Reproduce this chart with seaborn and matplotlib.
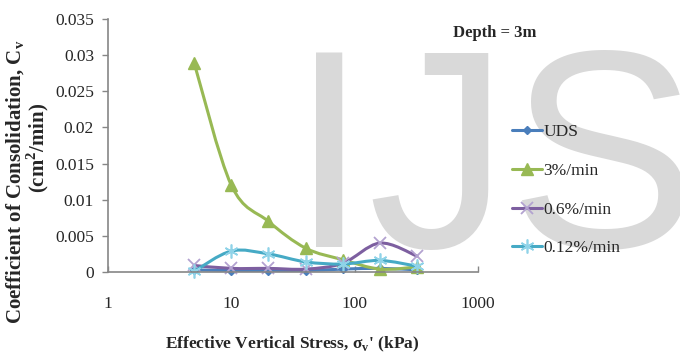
import numpy as np
import pandas as pd
import matplotlib
matplotlib.use("Agg")
import matplotlib.pyplot as plt
import seaborn as sns
from matplotlib.path import Path
from matplotlib.patches import PathPatch
from matplotlib.lines import Line2D
from matplotlib.ticker import FixedLocator, FixedFormatter, NullLocator

# ---------------- data ----------------
stress = [5, 10, 20, 40, 80, 160, 320]
cv_uds = [0.0003, 0.0002, 0.0002, 0.0002, 0.0004, 0.0005, 0.0003]
cv_3 = [0.0289, 0.0120, 0.0070, 0.0033, 0.0017, 0.0004, 0.0007]
cv_06 = [0.0009, 0.0005, 0.0005, 0.0004, 0.0012, 0.0040, 0.0022]
cv_012 = [0.0001, 0.0029, 0.0025, 0.0014, 0.0011, 0.0016, 0.0008]
series_names = ["UDS", "3%/min", "0.6%/min", "0.12%/min"]
y_ticks = [0, 0.005, 0.01, 0.015, 0.02, 0.025, 0.03, 0.035]
y_tick_labels = ["0", "0.005", "0.01", "0.015", "0.02", "0.025", "0.03", "0.035"]
x_ticks = [1, 10, 100, 1000]
x_tick_labels = ["1", "10", "100", "1000"]

# ---------------- style ----------------
sns.set_style("white")
plt.rcParams["font.family"] = ["Liberation Serif", "DejaVu Serif"]
plt.rcParams["mathtext.fontset"] = "custom"
plt.rcParams["mathtext.rm"] = "Liberation Serif"
plt.rcParams["mathtext.bf"] = "Liberation Serif:bold"

line_colors = ["#4A7EBB", "#98B954", "#7D5FA0", "#46AAC5"]
marker_colors = ["#4A7EBB", "#98B954", "#B3A2D0", "#8FD3E8"]
markers = ["D", "^", "x", (6, 2, 0)]
marker_sizes = [4, 8, 8, 10]
marker_ew = [1, 1, 1.3, 1.2]

fig = plt.figure(figsize=(6.8, 3.56), dpi=100)
W, H = 680, 356
ax = fig.add_axes([108 / W, 1 - 272 / H, (478 - 108) / W, (272 - 19) / H])
ax.patch.set_alpha(0)

# watermark
fig.text(290.5 / W, 1 - 247 / H, "IJS", fontsize=203, family="Liberation Sans",
         color="#d9d9d9", ha="left", va="baseline", zorder=-1)

ax.set_xscale("log")
ax.set_xlim(1, 1000)
ax.set_ylim(0, 0.035)


def smooth_path(xs, ys):
    u = np.log10(np.asarray(xs, dtype=float))
    P = np.column_stack([u, np.asarray(ys, dtype=float)])
    n = len(P)
    verts = [P[0]]
    codes = [Path.MOVETO]
    for i in range(n - 1):
        p0 = P[i - 1] if i > 0 else P[i]
        p1, p2 = P[i], P[i + 1]
        p3 = P[i + 2] if i + 2 < n else P[i + 1]
        c1 = p1 + (p2 - p0) / 6.0
        c2 = p2 - (p3 - p1) / 6.0
        verts += [c1, c2, p2]
        codes += [Path.CURVE4] * 3
    V = np.array(verts)
    V[:, 0] = 10 ** V[:, 0]
    return Path(V, codes)


all_vals = [cv_uds, cv_3, cv_06, cv_012]
for i, (name, vals) in enumerate(zip(series_names, all_vals)):
    patch = PathPatch(smooth_path(stress, vals), fill=False, edgecolor=line_colors[i],
                      lw=2.2, capstyle="round", joinstyle="round", zorder=2 + i * 0.1)
    ax.add_patch(patch)
    df = pd.DataFrame({"stress": stress, "cv": vals})
    sns.lineplot(data=df, x="stress", y="cv", ax=ax, lw=0, marker=markers[i],
                 markersize=marker_sizes[i], color=marker_colors[i],
                 markeredgecolor=marker_colors[i], markerfacecolor=marker_colors[i],
                 markeredgewidth=marker_ew[i], zorder=2.05 + i * 0.1, clip_on=False)

# axes styling
for s in ["top", "right"]:
    ax.spines[s].set_visible(False)
for s in ["left", "bottom"]:
    ax.spines[s].set_color("#868686")
    ax.spines[s].set_linewidth(1.2)

ax.yaxis.set_major_locator(FixedLocator(y_ticks))
ax.yaxis.set_major_formatter(FixedFormatter(y_tick_labels))
ax.xaxis.set_major_locator(FixedLocator(x_ticks))
ax.xaxis.set_major_formatter(FixedFormatter(x_tick_labels))
ax.xaxis.set_minor_locator(NullLocator())
ax.tick_params(axis="y", direction="out", length=4, width=1, color="#868686",
               labelsize=12.5, pad=6, left=True)
ax.tick_params(axis="x", direction="in", length=4, width=1, color="#868686",
               labelsize=12.5, pad=17, bottom=True)
ax.set_xlabel("")
ax.set_ylabel("")

# titles
fig.text(292 / W, 1 - 344 / H, "Effective Vertical Stress, σ$_\\mathbf{v}$' (kPa)",
         fontsize=12.5, fontweight="bold", ha="center", va="center")
fig.text(16 / W, 1 - 182 / H, "Coefficient of Consolidation, C$_\\mathbf{v}$",
         fontsize=15, fontweight="bold", rotation=90, ha="center", va="center")
fig.text(38 / W, 1 - 148 / H, "(cm$^\\mathbf{2}$/min)",
         fontsize=15, fontweight="bold", rotation=90, ha="center", va="center")
fig.text(495 / W, 1 - 33 / H, "Depth = 3m", fontsize=12, fontweight="bold",
         ha="center", va="center")

# legend
handles = []
for i in range(4):
    handles.append(Line2D([0], [0], color=line_colors[i], lw=2.2, marker=markers[i],
                          markersize=marker_sizes[i], markerfacecolor=marker_colors[i],
                          markeredgecolor=marker_colors[i], markeredgewidth=marker_ew[i]))
fig.legend(handles, series_names, loc="upper left", bbox_to_anchor=(512 / W, 1 - 124 / H),
           frameon=False, prop={"family": "Liberation Serif", "size": 12.5},
           handlelength=1.7, handletextpad=0.1, labelspacing=1.3,
           borderpad=0, borderaxespad=0)

fig.savefig("out.png", dpi=100)
